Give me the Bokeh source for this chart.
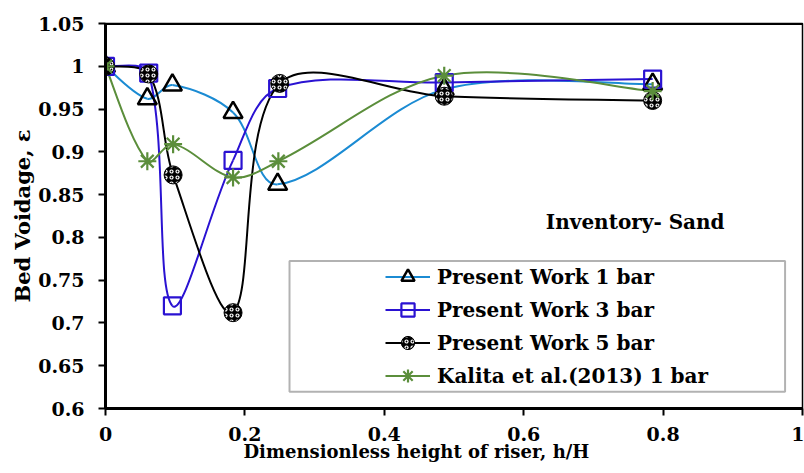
import numpy as np
from bokeh.plotting import figure
from bokeh.models import (Range1d, FixedTicker, Legend, LegendItem, Label,
                          BoxAnnotation, Span, ColumnDataSource)
from bokeh.embed import file_html
from bokeh.resources import INLINE

# ---------------- data ----------------
x_pw1 = [0.0, 0.060, 0.096, 0.183, 0.247, 0.486, 0.785]
y_pw1 = [1.0, 0.962, 0.978, 0.946, 0.862, 0.973, 0.979]

x_pw3 = [0.0, 0.062, 0.096, 0.183, 0.247, 0.486, 0.785]
y_pw3 = [1.0, 0.992, 0.720, 0.890, 0.974, 0.981, 0.985]

x_pw5 = [0.0, 0.062, 0.097, 0.183, 0.250, 0.486, 0.785]
y_pw5 = [1.0, 0.991, 0.873, 0.712, 0.980, 0.965, 0.960]

x_kal = [0.0, 0.060, 0.097, 0.183, 0.248, 0.486, 0.785]
y_kal = [1.0, 0.889, 0.909, 0.870, 0.889, 0.989, 0.971]

x_ticks = [0, 0.2, 0.4, 0.6, 0.8, 1.0]
y_ticks = [0.6, 0.65, 0.7, 0.75, 0.8, 0.85, 0.9, 0.95, 1.0, 1.05]

FONT = "DejaVu Serif"
X0, X1, Y0, Y1 = 0.0, 1.0, 0.6, 1.05
FRAME_W, FRAME_H = 697.0, 385.0

p = figure(width=804, height=473, output_backend="svg", toolbar_location=None,
           x_range=Range1d(X0, X1), y_range=Range1d(Y0, Y1),
           min_border_left=105, min_border_right=2, min_border_top=23,
           min_border_bottom=65)
p.grid.visible = False
p.outline_line_color = "black"
p.outline_line_width = 1.5
p.background_fill_color = "white"
p.border_fill_color = "white"

for ax in (p.xaxis[0], p.yaxis[0]):
    ax.axis_line_width = 3
    ax.axis_line_color = "black"
    ax.major_tick_line_width = 2
    ax.major_tick_in = 0
    ax.major_tick_out = 7
    ax.minor_tick_line_color = None
    ax.major_label_text_font = FONT
    ax.major_label_text_font_style = "bold"
    ax.major_label_text_font_size = "19px"
    ax.major_label_text_color = "black"
    ax.axis_label_text_font = FONT
    ax.axis_label_text_font_style = "bold"
    ax.axis_label_text_color = "black"

p.xaxis.ticker = FixedTicker(ticks=x_ticks)
p.xaxis.major_label_overrides = {t: ("%g" % t) for t in x_ticks}
p.yaxis.ticker = FixedTicker(ticks=y_ticks)
p.yaxis.major_label_overrides = {t: ("%g" % t) for t in y_ticks}
p.xaxis.major_label_standoff = 11
p.yaxis.major_label_standoff = 14

p.xaxis.axis_label = "Dimensionless height of riser, h/H" + "\u00a0" * 12
p.xaxis.axis_label_text_font_size = "18px"
p.xaxis.axis_label_standoff = -3
p.yaxis.axis_label = "Bed Voidage, \u03b5"
p.yaxis.axis_label_text_font_size = "21px"
p.yaxis.axis_label_standoff = 0

p.add_layout(Span(location=Y1, dimension="width", line_color="black", line_width=3))


def smooth(xs, ys):
    # Excel-like smoothing: handles proportional to neighbouring segment lengths (screen space)
    x = np.array(xs, dtype=float) * FRAME_W / (X1 - X0)
    y = np.array(ys, dtype=float) * FRAME_H / (Y1 - Y0)
    n = len(x)
    c0x, c0y, c1x, c1y = [], [], [], []
    for i in range(n - 1):
        ip = max(i - 1, 0)
        din = np.hypot(x[i] - x[ip], y[i] - y[ip])
        dout = np.hypot(x[i + 1] - x[i], y[i + 1] - y[i])
        tx, ty = x[i + 1] - x[ip], y[i + 1] - y[ip]
        f = dout / (din + dout) / 3.0 if i > 0 else 1.0 / 6.0
        c0x.append(x[i] + tx * f)
        c0y.append(y[i] + ty * f)
        j = i + 1
        jn = min(j + 1, n - 1)
        din = np.hypot(x[j] - x[j - 1], y[j] - y[j - 1])
        dout = np.hypot(x[jn] - x[j], y[jn] - y[j])
        tx, ty = x[jn] - x[j - 1], y[jn] - y[j - 1]
        f = din / (din + dout) / 3.0 if j < n - 1 else 1.0 / 6.0
        c1x.append(x[j] - tx * f)
        c1y.append(y[j] - ty * f)
    sx = (X1 - X0) / FRAME_W
    sy = (Y1 - Y0) / FRAME_H
    return dict(x0=x[:-1] * sx, y0=y[:-1] * sy, x1=x[1:] * sx, y1=y[1:] * sy,
                cx0=np.array(c0x) * sx, cy0=np.array(c0y) * sy,
                cx1=np.array(c1x) * sx, cy1=np.array(c1y) * sy)


series = [
    ("Present Work 1 bar", x_pw1, y_pw1, "#1b8bd3",
     dict(marker="triangle", size=19, line_color="black", fill_color=None, line_width=2.5)),
    ("Present Work 3 bar", x_pw3, y_pw3, "#2a12d2",
     dict(marker="square", size=17, line_color="#2a12d2", fill_color=None, line_width=2.2)),
    ("Present Work 5 bar", x_pw5, y_pw5, "black",
     dict(marker="circle", size=18, line_color="black", fill_color="black", line_width=1,
          hatch_pattern="o", hatch_color="white", hatch_scale=6, hatch_weight=1.2)),
    ("Kalita et al.(2013) 1 bar", x_kal, y_kal, "#5b8e3b",
     dict(marker="asterisk", size=18, line_color="#5b8e3b", line_width=2.2)),
]

dummies = []
for label, xs, ys, color, mk in series:
    b = smooth(xs, ys)
    p.bezier(source=ColumnDataSource(b), x0="x0", y0="y0", x1="x1", y1="y1",
             cx0="cx0", cy0="cy0", cx1="cx1", cy1="cy1",
             line_color=color, line_width=2)
    dummies.append(p.line(x=[np.nan], y=[np.nan], line_color=color, line_width=2))

legend_items = []
for (label, xs, ys, color, mk), dummy in zip(series, dummies):
    r = p.scatter(x=xs, y=ys, **mk)
    legend_items.append(LegendItem(label=label, renderers=[dummy, r]))

# legend box
p.add_layout(BoxAnnotation(left=0.264, right=0.975, bottom=0.6195, top=0.7725,
                           fill_color="white", fill_alpha=1.0,
                           line_color="black", line_width=2, level="annotation"))

legend = Legend(items=legend_items, location=(280, 16), glyph_width=45, glyph_height=33,
                spacing=0, padding=0, margin=0, label_standoff=7,
                border_line_alpha=0, background_fill_alpha=0,
                label_text_font=FONT, label_text_font_style="bold",
                label_text_font_size="20px", label_text_color="black")
p.add_layout(legend)

p.add_layout(Label(x=0.760, y=0.8045, text="Inventory- Sand", text_align="center",
                   text_font=FONT, text_font_style="bold", text_font_size="20px",
                   text_color="black"))

open("out.html", "w").write(file_html(p, INLINE))
